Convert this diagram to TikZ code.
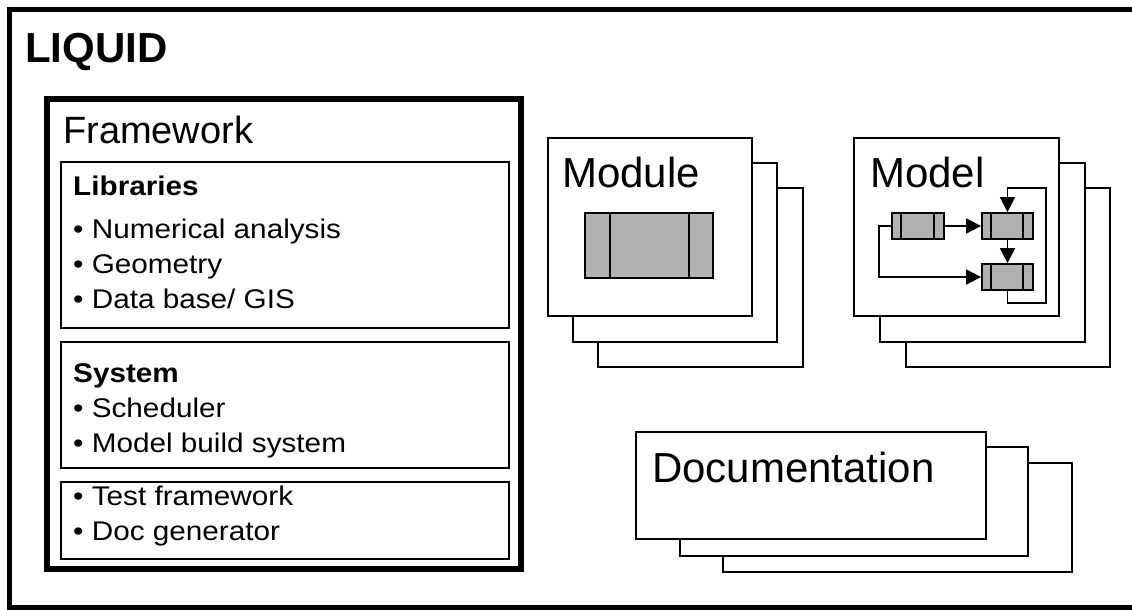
\documentclass[tikz,border=0pt]{standalone}
\usepackage{fontspec}
\setmainfont{Liberation Sans}
\newfontfamily\widesans{Liberation Sans}[FakeStretch=1.1]
\usetikzlibrary{arrows.meta,fit}
\definecolor{blockgray}{RGB}{178,178,178}
\tikzset{
  frame/.style={draw=black, line width=5pt},
  fwbox/.style={draw, line width=5.5pt, fill=white, inner sep=0pt},
  panel/.style={draw, line width=1.8pt, inner sep=0pt},
  card/.style={draw, line width=2.5pt, fill=white, inner sep=0pt},
  block/.style={draw, line width=1.8pt, fill=blockgray, inner sep=0pt},
  divider/.style={line width=1.8pt},
  flow/.style={line width=1.8pt, -{Triangle[length=15pt,width=15pt]}},
  txt/.style={anchor=base west, inner sep=0pt, font=\widesans\fontsize{27}{34}\selectfont},
  bold/.style={txt, font=\widesans\fontsize{27}{34}\selectfont\bfseries},
  bigtxt/.style={anchor=base west, inner sep=0pt, font=\fontsize{42}{50}\selectfont},
  midtxt/.style={anchor=base west, inner sep=0pt, font=\fontsize{38}{46}\selectfont},
  titletxt/.style={anchor=base west, inner sep=0pt, font=\fontsize{42}{50}\selectfont\bfseries},
}
\begin{document}
\begin{tikzpicture}[x=1pt, y=-1pt]
\useasboundingbox (0,0) rectangle (1132,610);
\clip (0,0) rectangle (1132,610);
\fill[white] (0,0) rectangle (1132,610);
% outer frame
\node[frame, inner sep=0pt, fit={(9.5,9.5) (1145,607)}] (liquid) {};
\node[titletxt] (title) at (25,63) {LIQUID};

% framework
\node[fwbox, fit={(47,99) (521,569)}] (fw) {};
\node[midtxt] (fwtitle) at (63,143) {Framework};
\node[panel, fit={(61,162) (509,328)}] (libs) {};
\node[bold] (libst) at (73,195) {Libraries};
\node[txt] (l1) at (73,238) {• Numerical analysis};
\node[txt] (l2) at (73,273) {• Geometry};
\node[txt] (l3) at (73,308) {• Data base/ GIS};
\node[panel, fit={(61,342) (509,468)}] (sys) {};
\node[bold] (syst) at (73,382) {System};
\node[txt] (s1) at (73,417) {• Scheduler};
\node[txt] (s2) at (73,452) {• Model build system};
\node[panel, fit={(61,482) (509,559)}] (tools) {};
\node[txt] (t1) at (73,505) {• Test framework};
\node[txt] (t2) at (73,540) {• Doc generator};

% module stack
\node[card, fit={(598,188) (803,367)}] (mod3) {};
\node[card, fit={(573,163) (777,342)}] (mod2) {};
\node[card, fit={(548,138) (752,316)}] (mod1) {};
\node[bigtxt] (modt) at (562,187) {Module};
\node[block, fit={(585,213) (713,278)}] (modblk) {};
\draw[divider] (modblk.north west) ++(26,0) -- ++(0,65);
\draw[divider] (modblk.north east) ++(-25,0) -- ++(0,65);

% model stack
\node[card, fit={(906,188) (1110,367)}] (mdl3) {};
\node[card, fit={(880,163) (1085,342)}] (mdl2) {};
\node[card, fit={(854,138) (1059,316)}] (mdl1) {};
\node[bigtxt] (mdlt) at (870,187) {Model};
\node[block, fit={(892,213) (944,239)}] (ma) {};
\node[block, fit={(982,213) (1033,239)}] (mb) {};
\node[block, fit={(982,264) (1033,290)}] (mc) {};
\foreach \n in {ma,mb,mc}{
  \draw[divider] (\n.north west) ++(10,0) -- ++(0,26);
  \draw[divider] (\n.north east) ++(-11,0) -- ++(0,26);
}
\coordinate (loopR) at (1046,188);
\draw[flow] (ma.east) -- (mb.west);
\draw[flow] (mb.south) -- (mc.north);
\draw[flow] (ma.west) -- ++(-12,0) |- (mc.west);
\draw[flow] (mc.south) -- ++(0,12) -| (loopR) -| (mb.north);

% documentation stack
\node[card, fit={(723,463) (1072,572)}] (doc3) {};
\node[card, fit={(680,447) (1028,556)}] (doc2) {};
\node[card, fit={(636,432) (986,539)}] (doc1) {};
\node[bigtxt] (doct) at (652,482) {Documentation};
\end{tikzpicture}
\end{document}
